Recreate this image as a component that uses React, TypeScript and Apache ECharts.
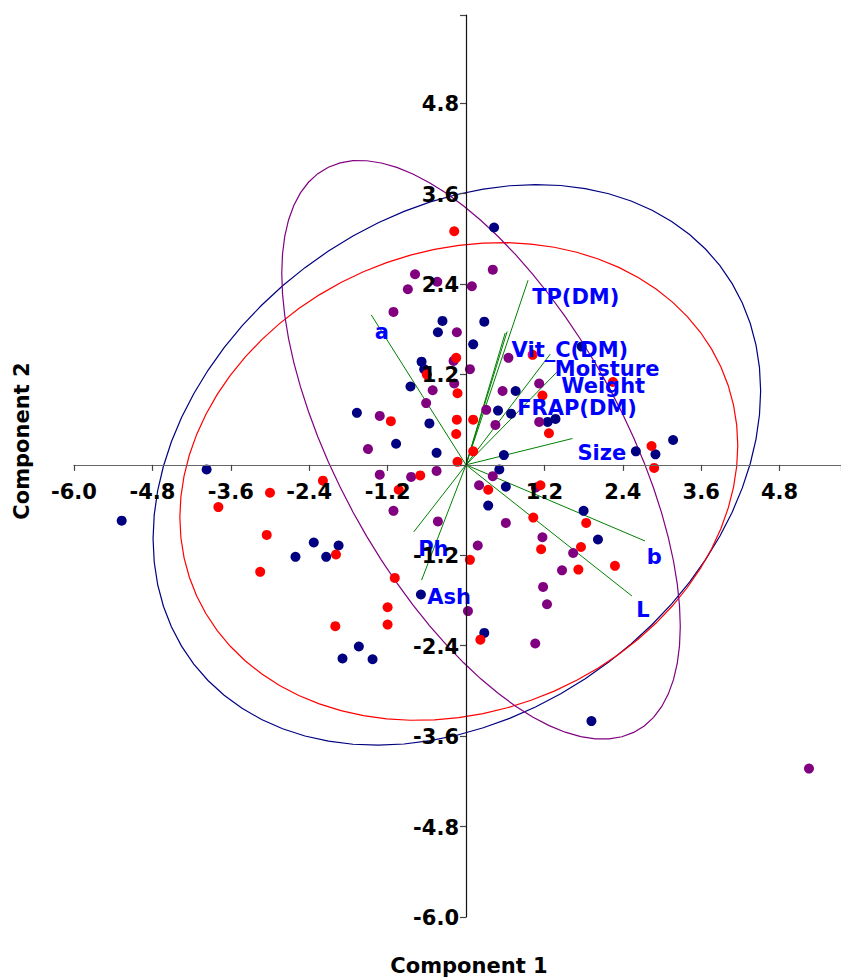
import React, { useEffect, useRef } from 'react';
import * as echarts from 'echarts';

// Scores (Component 1, Component 2) by group
const navyScores: number[][] = [
  [-3.97, -0.06], [-1.07, 0.28], [-5.27, -0.74], [-2.33, -1.03], [-1.95, -1.07],
  [-2.61, -1.22], [-2.14, -1.22], [-0.69, -1.72], [-1.64, -2.41], [-1.89, -2.57],
  [-1.43, -2.58], [0.28, -2.23], [0.51, -0.06], [0.61, -0.29], [0.34, -0.54],
  [1.80, -0.61], [2.02, -0.99], [1.92, -3.40], [-0.45, 0.16], [0.58, 0.13],
  [2.60, 0.18], [2.90, 0.14], [3.17, 0.33], [0.43, 3.15], [-0.36, 1.91],
  [0.28, 1.90], [-0.43, 1.76], [0.11, 1.60], [-0.68, 1.37], [-0.64, 1.27],
  [-0.85, 1.04], [1.77, 1.57], [0.76, 0.98], [-1.67, 0.69], [-0.56, 0.55],
  [0.49, 0.72], [0.69, 0.68], [1.25, 0.57], [1.37, 0.61],
];

const purpleScores: number[][] = [
  [-1.50, 0.21], [-1.32, -0.13], [-0.84, -0.16], [-0.45, -0.08], [-1.11, -0.61],
  [-0.43, -0.75], [0.18, -1.07], [0.03, -1.94], [1.06, -2.37], [0.41, -0.15],
  [0.20, -0.27], [1.07, -0.30], [0.61, -0.77], [1.17, -0.96], [1.64, -1.17],
  [1.47, -1.40], [1.18, -1.62], [1.24, -1.85], [-0.78, 2.53], [0.41, 2.59],
  [-0.89, 2.33], [-0.44, 2.43], [0.09, 2.37], [-1.11, 2.03], [-0.14, 1.76],
  [-0.19, 1.38], [0.06, 1.27], [-0.18, 1.08], [-0.51, 0.99], [0.65, 1.42],
  [1.12, 1.08], [0.56, 0.98], [-0.61, 0.82], [-1.32, 0.65], [0.31, 0.73],
  [0.45, 0.53], [1.12, 0.57], [5.25, -4.03],
];

const redScores: number[][] = [
  [-2.19, -0.21], [-3.00, -0.37], [-3.79, -0.56], [-3.05, -0.93], [-1.99, -1.19],
  [-3.15, -1.42], [-0.70, -0.14], [-1.03, -0.33], [-0.13, 0.04], [0.06, -1.26],
  [-1.09, -1.50], [-1.20, -1.89], [-1.20, -2.12], [-2.00, -2.14], [0.22, -2.32],
  [0.34, -0.33], [1.14, -0.27], [1.03, -0.70], [1.84, -0.77], [1.15, -1.12],
  [1.76, -1.09], [2.28, -1.34], [1.72, -1.39], [0.11, 0.18], [2.84, 0.25],
  [2.88, -0.04], [-0.18, 3.10], [-0.15, 1.42], [-0.60, 1.20], [-0.13, 0.95],
  [1.17, 0.92], [1.02, 1.46], [2.25, 1.10], [-1.15, 0.58], [-0.14, 0.60],
  [-0.15, 0.41], [0.11, 0.60], [1.27, 0.42],
];

// Loadings (vector end points) and their label positions
const loadingNames = ['TP(DM)', 'Vit_C(DM)', 'FRAP(DM)', 'Moisture', 'Weight', 'Size', 'a', 'Ph', 'Ash', 'b', 'L'];
const loadingEnds: number[][] = [
  [0.95, 2.45], [0.63, 1.77], [0.60, 1.75], [1.29, 1.47], [1.39, 1.23], [1.63, 0.35],
  [-1.45, 1.99], [-0.80, -0.89], [-0.68, -1.53], [2.74, -1.01], [2.54, -1.74],
];
const loadingLabelPos: number[][] = [
  [1.68, 2.23], [1.59, 1.53], [1.70, 0.75], [2.16, 1.27], [2.10, 1.05], [2.08, 0.16],
  [-1.29, 1.76], [-0.50, -1.11], [-0.26, -1.75], [2.88, -1.22], [2.71, -1.93],
];

// Confidence ellipses: centre, half extents and phase between x and y
const ellipseColors = ['#000080', '#FF0000', '#800080'];
const ellipseCenters: number[][] = [[-0.14, 0.0], [-0.11, -0.22], [0.23, 0.20]];
const ellipseExtents: number[][] = [[4.65, 3.72], [4.27, 3.17], [3.05, 3.84]];
const ellipsePhases = [1.304, 1.42, 2.227];

// Axis ticks
const axisMin = -6.0;
const axisInterval = 1.2;
const xMax = 5.74;
const yMax = 5.97;
const xTickLabels = ['-6.0', '-4.8', '-3.6', '-2.4', '-1.2', '1.2', '2.4', '3.6', '4.8'];
const yTickLabels = ['-6.0', '-4.8', '-3.6', '-2.4', '-1.2', '1.2', '2.4', '3.6', '4.8'];

const FONT = '"DejaVu Sans", sans-serif';

export default function App() {
  const ref = useRef<HTMLDivElement>(null);
  useEffect(() => {
    if (!ref.current) return;
    const chart = echarts.init(ref.current, undefined, { renderer: 'svg' });

    const ellipseSeries = ellipseColors.map((color, i) => ({
      type: 'custom',
      z: 1,
      silent: true,
      data: [[ellipseCenters[i][0], ellipseCenters[i][1], ellipseExtents[i][0], ellipseExtents[i][1], ellipsePhases[i]]],
      renderItem: (params: any, api: any) => {
        const cx = api.value(0), cy = api.value(1), rx = api.value(2), ry = api.value(3), ph = api.value(4);
        const pts: number[][] = [];
        const N = 72;
        for (let k = 0; k <= N; k++) {
          const t = (2 * Math.PI * k) / N;
          pts.push(api.coord([cx + rx * Math.cos(t), cy + ry * Math.cos(t - ph)]));
        }
        return {
          type: 'polyline',
          shape: { points: pts },
          style: { stroke: color, lineWidth: 1.2, fill: null },
        };
      },
    }));

    const loadingLineSeries = {
      type: 'custom',
      z: 1,
      silent: true,
      data: loadingEnds.map((e) => [e[0], e[1]]),
      renderItem: (params: any, api: any) => {
        const p0 = api.coord([0, 0]);
        const p1 = api.coord([api.value(0), api.value(1)]);
        return {
          type: 'line',
          shape: { x1: p0[0], y1: p0[1], x2: p1[0], y2: p1[1] },
          style: { stroke: '#008000', lineWidth: 1 },
        };
      },
    };

    const loadingLabelSeries = {
      type: 'custom',
      z: 4,
      silent: true,
      data: loadingLabelPos.map((p, i) => [p[0], p[1], i]),
      renderItem: (params: any, api: any) => {
        const p = api.coord([api.value(0), api.value(1)]);
        return {
          type: 'text',
          x: p[0],
          y: p[1],
          style: {
            text: loadingNames[api.value(2)],
            fill: '#0000FF',
            font: `bold 21px ${FONT}`,
            align: 'center',
            verticalAlign: 'middle',
          },
        };
      },
    };

    // Tick labels drawn next to the axis lines that cross at the origin
    const xTickLabelSeries = {
      type: 'custom',
      z: 10,
      silent: true,
      data: xTickLabels.map((t, i) => [parseFloat(t), 0, i]),
      renderItem: (params: any, api: any) => {
        const p = api.coord([api.value(0), 0]);
        return {
          type: 'text',
          x: p[0],
          y: p[1] + 27,
          style: {
            text: xTickLabels[api.value(2)],
            fill: '#000',
            font: `bold 21px ${FONT}`,
            align: 'center',
            verticalAlign: 'middle',
          },
        };
      },
    };
    const yTickLabelSeries = {
      type: 'custom',
      z: 10,
      silent: true,
      data: yTickLabels.map((t, i) => [0, parseFloat(t), i]),
      renderItem: (params: any, api: any) => {
        const p = api.coord([0, api.value(1)]);
        return {
          type: 'text',
          x: p[0] - 7,
          y: p[1] + 1,
          style: {
            text: yTickLabels[api.value(2)],
            fill: '#000',
            font: `bold 21px ${FONT}`,
            align: 'right',
            verticalAlign: 'middle',
          },
        };
      },
    };

    const scatter = (data: number[][], color: string) => ({
      type: 'scatter',
      z: 3,
      symbol: 'circle',
      symbolSize: 10,
      itemStyle: { color, opacity: 1 },
      data,
    });

    chart.setOption({
      animation: false,
      grid: { left: 74, right: 0, top: 15, bottom: 60, containLabel: false },
      xAxis: {
        type: 'value',
        min: axisMin,
        max: xMax,
        interval: axisInterval,
        z: 10,
        splitLine: { show: false },
        axisLine: { onZero: true, lineStyle: { color: '#666', width: 1.2 } },
        axisTick: { show: true, length: 6, lineStyle: { color: '#444', width: 1.2 } },
        axisLabel: { show: false },
      },
      yAxis: {
        type: 'value',
        min: axisMin,
        max: yMax,
        interval: axisInterval,
        z: 10,
        splitLine: { show: false },
        axisLine: { onZero: true, lineStyle: { color: '#111', width: 1.2 } },
        axisTick: { show: true, length: 6, lineStyle: { color: '#444', width: 1.2 } },
        axisLabel: { show: false },
      },
      graphic: [
        {
          type: 'text',
          x: 469,
          y: 966,
          style: {
            text: 'Component 1',
            font: `bold 21px ${FONT}`,
            fill: '#000',
            align: 'center',
            verticalAlign: 'middle',
          },
        },
        {
          type: 'text',
          x: 22,
          y: 441,
          rotation: Math.PI / 2,
          style: {
            text: 'Component 2',
            font: `bold 21px ${FONT}`,
            fill: '#000',
            align: 'center',
            verticalAlign: 'middle',
          },
        },
      ],
      series: [
        ...ellipseSeries,
        loadingLineSeries,
        scatter(navyScores, '#000080'),
        scatter(purpleScores, '#800080'),
        scatter(redScores, '#FF0000'),
        loadingLabelSeries,
        xTickLabelSeries,
        yTickLabelSeries,
      ],
    });

    return () => chart.dispose();
  }, []);

  return <div ref={ref} style={{ width: 841, height: 977, position: 'absolute', left: 0, top: 0, background: '#fff' }} />;
}
